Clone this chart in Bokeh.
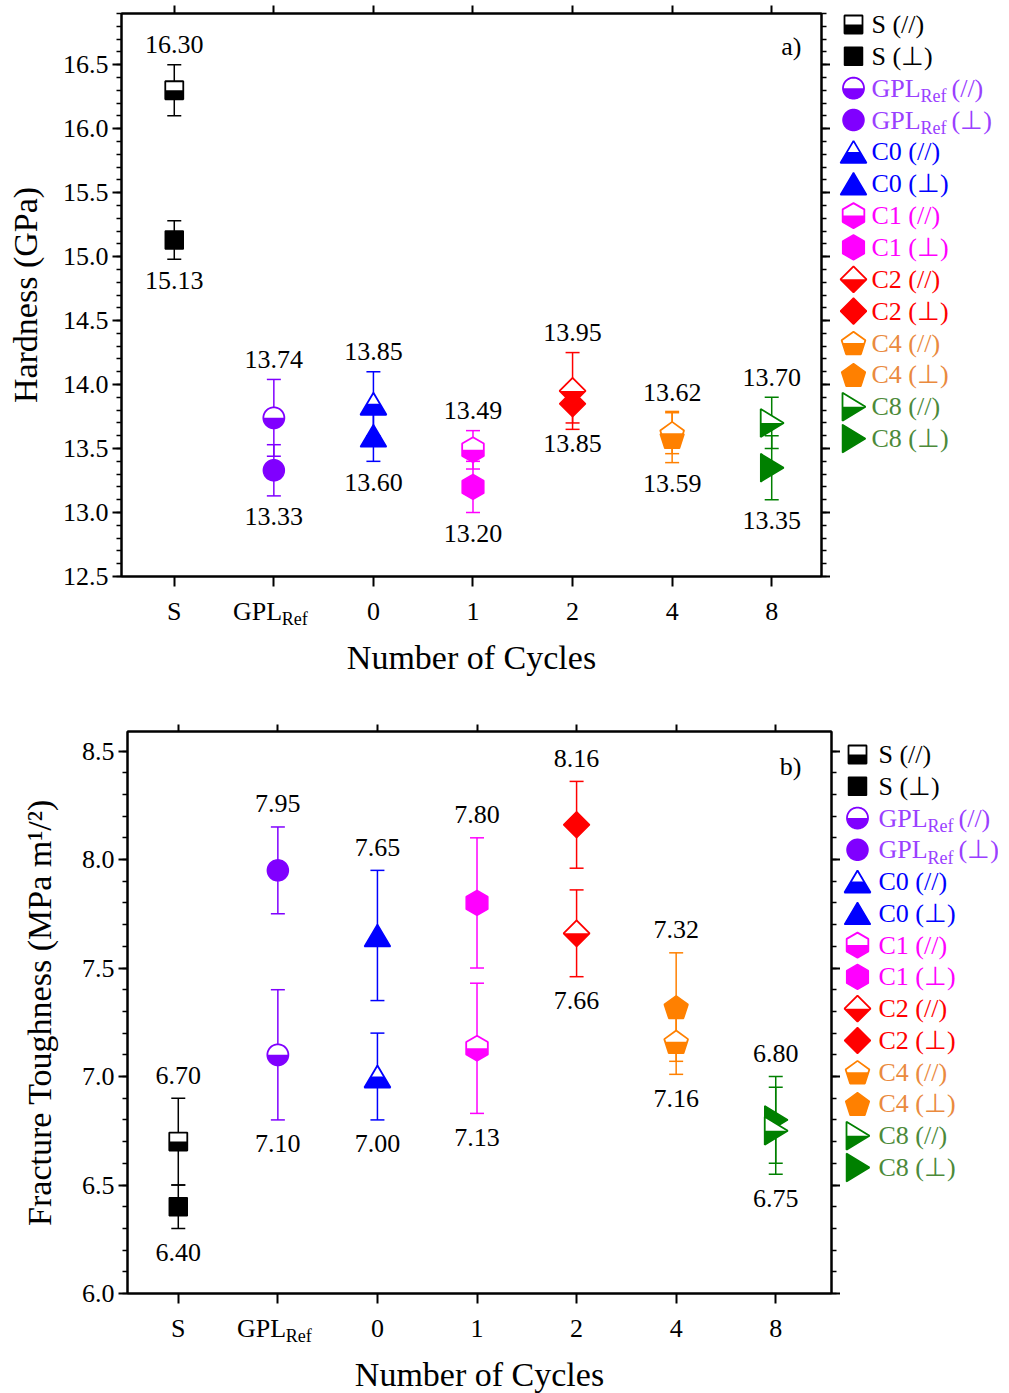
import numpy as np
from bokeh.plotting import figure
from bokeh.layouts import column, row
from bokeh.models import (Range1d, LinearAxis, FixedTicker, SingleIntervalTicker,
                          NumeralTickFormatter, Whisker, TeeHead, ColumnDataSource, Label)
from bokeh.embed import file_html
from bokeh.resources import INLINE
from bokeh.core.properties import value

FONT = "Liberation Serif"

# ---------------- data ----------------
categories = ["S", "GPL_Ref", "0", "1", "2", "4", "8"]
series_names = ["S", "GPL_Ref", "C0", "C1", "C2", "C4", "C8"]

hard_par = [16.30, 13.74, 13.85, 13.49, 13.95, 13.62, 13.70]
hard_par_err = [0.20, 0.30, 0.25, 0.15, 0.30, 0.16, 0.20]
hard_perp = [15.13, 13.33, 13.60, 13.20, 13.85, 13.59, 13.35]
hard_perp_err = [0.15, 0.20, 0.20, 0.20, 0.15, 0.20, 0.25]

tough_par = [6.70, 7.10, 7.00, 7.13, 7.66, 7.16, 6.75]
tough_par_err = [0.20, 0.30, 0.20, 0.30, 0.20, 0.15, 0.20]
tough_perp = [6.40, 7.95, 7.65, 7.80, 8.16, 7.32, 6.80]
tough_perp_err = [0.10, 0.20, 0.30, 0.30, 0.20, 0.25, 0.20]

marker_colors = ["#000000", "#8000ff", "#0000ff", "#ff00ff", "#ff0000", "#ff8000", "#008000"]
legend_text_colors = ["#000000", "#9a40ff", "#0000ff", "#ff00ff", "#ff0000", "#ea8a3e", "#4c8a3a"]
marker_shapes = ["square", "circle", "triangle", "hexagon", "diamond", "pentagon", "tri_right"]

x_pos = list(range(len(categories)))


# ---------------- marker geometry (pixels, y up) ----------------
def shape_px(kind):
    if kind == "square":
        h = 9.0
        return [(-h, -h), (h, -h), (h, h), (-h, h)]
    if kind == "circle":
        r = 10.5
        a = np.linspace(0, 2 * np.pi, 60, endpoint=False)
        return list(zip(r * np.cos(a), r * np.sin(a)))
    if kind == "triangle":
        return [(-13.0, -11.0), (13.0, -11.0), (0.0, 11.0)]
    if kind == "hexagon":
        R = 12.5
        a = np.radians(90 + 60 * np.arange(6))
        return list(zip(R * np.cos(a), R * np.sin(a)))
    if kind == "diamond":
        return [(0.0, 13.0), (13.0, 0.0), (0.0, -13.0), (-13.0, 0.0)]
    if kind == "pentagon":
        R = 12.5
        a = np.radians(90 + 72 * np.arange(5))
        shift = (R - 0.809 * R) / 2.0
        return list(zip(R * np.cos(a), R * np.sin(a) - shift))
    if kind == "tri_right":
        return [(-11.0, 14.0), (-11.0, -14.0), (12.0, 0.0)]
    raise ValueError(kind)


def clip_bottom(poly):
    out = []
    n = len(poly)
    for i in range(n):
        cx, cy = poly[i]
        px, py = poly[i - 1]
        cin, pin = cy <= 0, py <= 0
        if cin:
            if not pin:
                t = py / (py - cy)
                out.append((px + t * (cx - px), 0.0))
            out.append((cx, cy))
        elif pin:
            t = py / (py - cy)
            out.append((px + t * (cx - px), 0.0))
    return out


def polygon(xc, yc, kind, sx, sy, half=False):
    pts = shape_px(kind)
    if half:
        pts = clip_bottom(pts)
    return [xc + dx * sx for dx, dy in pts], [yc + dy * sy for dx, dy in pts]


def draw_markers(p, xc_list, yc_list, kinds, colors, sx, sy, half):
    full = dict(xs=[], ys=[], c=[])
    bot = dict(xs=[], ys=[], c=[])
    for xc, yc, k, c in zip(xc_list, yc_list, kinds, colors):
        xs, ys = polygon(xc, yc, k, sx, sy)
        full["xs"].append(xs); full["ys"].append(ys); full["c"].append(c)
        xs, ys = polygon(xc, yc, k, sx, sy, half=True)
        bot["xs"].append(xs); bot["ys"].append(ys); bot["c"].append(c)
    if not half:
        p.patches("xs", "ys", source=ColumnDataSource(full), fill_color="c",
                  line_color="c", line_width=1.5)
    else:
        p.patches("xs", "ys", source=ColumnDataSource(full), fill_color="white",
                  line_color=None)
        p.patches("xs", "ys", source=ColumnDataSource(bot), fill_color="c",
                  line_color=None)
        p.patches("xs", "ys", source=ColumnDataSource(full), fill_color=None,
                  line_color="c", line_width=1.8)


def style_axis(ax, tick_out, minor_out, labels=True):
    ax.axis_line_color = "black"
    ax.axis_line_width = 2
    ax.major_tick_line_color = "black"
    ax.major_tick_line_width = 2
    ax.minor_tick_line_color = "black"
    ax.minor_tick_line_width = 1.5
    ax.major_tick_in = 0
    ax.major_tick_out = tick_out
    ax.minor_tick_in = 0
    ax.minor_tick_out = minor_out
    if labels:
        ax.major_label_text_font = FONT
        ax.major_label_text_font_size = "26px"
        ax.major_label_text_color = "black"
        ax.axis_label_text_font = FONT
        ax.axis_label_text_font_style = "normal"
        ax.axis_label_text_color = "black"
    else:
        ax.major_label_text_font_size = "1px"
        ax.major_label_text_color = None
        ax.major_label_standoff = 0


def make_panel(par, par_err, perp, perp_err, ylabel, yr, xr, frame_w, frame_h,
               border_left, border_top, border_bottom, off_above, off_below,
               tag, tag_dx, tag_dy, ylabel_standoff, ref_side, top_tick):
    p = figure(frame_width=frame_w, frame_height=frame_h,
               x_range=Range1d(*xr), y_range=Range1d(*yr),
               toolbar_location=None, output_backend="svg",
               min_border_left=border_left, min_border_right=0,
               min_border_top=border_top, min_border_bottom=border_bottom,
               background_fill_color="white", border_fill_color="white")
    p.grid.visible = False
    p.outline_line_color = "black"
    p.outline_line_width = 2

    sx = (xr[1] - xr[0]) / frame_w
    sy = (yr[1] - yr[0]) / frame_h

    # left axis
    ya = p.yaxis[0]
    ya.ticker = SingleIntervalTicker(interval=0.5, num_minor_ticks=5)
    ya.formatter = NumeralTickFormatter(format="0.0")
    style_axis(ya, 9, 5)
    ya.major_label_standoff = 4
    ya.axis_label = ylabel
    ya.axis_label_text_font_size = "34px"
    ya.axis_label_standoff = ylabel_standoff

    # bottom axis
    xa = p.xaxis[0]
    xa.ticker = FixedTicker(ticks=x_pos, minor_ticks=[])
    overrides = {i: c for i, c in zip(x_pos, categories)}
    gi = categories.index("GPL_Ref")
    overrides[gi] = "GPL" + "\u00a0" * 5
    xa.major_label_overrides = overrides
    style_axis(xa, 10, 0)
    xa.major_label_standoff = 10
    xa.axis_label = "Number of Cycles"
    xa.axis_label_text_font_size = "34px"
    xa.axis_label_standoff = 10

    # right & top axes (ticks only)
    ra = LinearAxis(ticker=SingleIntervalTicker(interval=0.5, num_minor_ticks=5))
    style_axis(ra, 9, 5, labels=False)
    p.add_layout(ra, "right")
    ta = LinearAxis(ticker=FixedTicker(ticks=x_pos, minor_ticks=[]))
    style_axis(ta, top_tick, 0, labels=False)
    p.add_layout(ta, "above")

    # subscript of the GPL_Ref tick label (side panel so it is not clipped)
    p.add_layout(Label(x=gi, y=yr[0], x_offset=8, y_offset=-42, text="Ref",
                       text_align="left", text_baseline="middle", text_font=FONT,
                       text_font_size="18px", text_color="black"), ref_side)

    # error bars
    for i in range(len(x_pos)):
        col = marker_colors[i]
        for vals, errs in ((perp, perp_err), (par, par_err)):
            src = ColumnDataSource(dict(x=[x_pos[i]], upper=[vals[i] + errs[i]],
                                        lower=[vals[i] - errs[i]]))
            w = Whisker(source=src, base="x", upper="upper", lower="lower",
                        dimension="height", line_color=col, line_width=1.5,
                        upper_head=TeeHead(size=14, line_color=col, line_width=1.5),
                        lower_head=TeeHead(size=14, line_color=col, line_width=1.5),
                        level="underlay")
            p.add_layout(w)

    # markers
    draw_markers(p, x_pos, perp, marker_shapes, marker_colors, sx, sy, half=False)
    draw_markers(p, x_pos, par, marker_shapes, marker_colors, sx, sy, half=True)

    # value labels
    above = dict(x=[], y=[], t=[])
    below = dict(x=[], y=[], t=[])
    for i in range(len(x_pos)):
        a = (par[i], par_err[i]); b = (perp[i], perp_err[i])
        hi, lo = (a, b) if a[0] >= b[0] else (b, a)
        above["x"].append(x_pos[i]); above["y"].append(hi[0] + hi[1]); above["t"].append(f"{hi[0]:.2f}")
        below["x"].append(x_pos[i]); below["y"].append(lo[0] - lo[1]); below["t"].append(f"{lo[0]:.2f}")
    p.text("x", "y", "t", source=ColumnDataSource(above), text_font=value(FONT),
           text_font_size="26px", text_align="center", text_baseline="middle",
           text_color="black", y_offset=-off_above)
    p.text("x", "y", "t", source=ColumnDataSource(below), text_font=value(FONT),
           text_font_size="26px", text_align="center", text_baseline="middle",
           text_color="black", y_offset=off_below)

    # panel tag
    p.add_layout(Label(x=xr[1], y=yr[1], x_offset=-tag_dx, y_offset=-tag_dy, text=tag,
                       text_align="right", text_baseline="middle", text_font=FONT,
                       text_font_size="26px", text_color="black"))
    return p


def make_legend(width, frame_h, border_top, first_center, spacing, marker_x, text_x):
    lf = figure(frame_width=width, frame_height=frame_h,
                x_range=Range1d(0, width), y_range=Range1d(0, frame_h),
                toolbar_location=None, output_backend="svg",
                x_axis_location=None, y_axis_location=None,
                min_border_left=0, min_border_right=0, min_border_bottom=0,
                min_border_top=border_top, outline_line_color=None,
                background_fill_color="white", border_fill_color="white")
    lf.grid.visible = False
    k = 0
    main = dict(x=[], y=[], t=[], c=[])
    subs = dict(x=[], y=[], t=[], c=[])
    tails = dict(x=[], y=[], t=[], c=[])
    for i, name in enumerate(series_names):
        for kind_label, half in (("(//)", True), ("(\u22a5)", False)):
            yc = frame_h - (first_center + k * spacing)
            draw_markers(lf, [marker_x], [yc], [marker_shapes[i]], [marker_colors[i]], 1.0, 1.0, half)
            if name == "GPL_Ref":
                main["x"].append(text_x); main["y"].append(yc); main["t"].append("GPL")
                main["c"].append(legend_text_colors[i])
                subs["x"].append(text_x + 49); subs["y"].append(yc - 8); subs["t"].append("Ref")
                subs["c"].append(legend_text_colors[i])
                tails["x"].append(text_x + 80); tails["y"].append(yc)
                tails["t"].append(kind_label); tails["c"].append(legend_text_colors[i])
            else:
                main["x"].append(text_x); main["y"].append(yc)
                main["t"].append(name + " " + kind_label); main["c"].append(legend_text_colors[i])
            k += 1
    for d, fs in ((main, "26px"), (subs, "18px"), (tails, "26px")):
        lf.text("x", "y", "t", source=ColumnDataSource(d), text_font=value(FONT),
                text_font_size=fs, text_align="left", text_baseline="middle",
                text_color="c")
    return lf


pa = make_panel(hard_par, hard_par_err, hard_perp, hard_perp_err, "Hardness (GPa)",
                (12.5, 16.9), (-0.53, 6.5), 700, 563, 121, 13, 125, 20, 21, "a)", 20, 33,
                16, "below", 8)
pb = make_panel(tough_par, tough_par_err, tough_perp, tough_perp_err,
                "Fracture Toughness (MPa m\u00b9/\u00b2)",
                (6.0, 8.59), (-0.51, 6.56), 704, 562, 127, 30, 88, 23, 24, "b)", 30, 35,
                21, "above", 7)

la = make_legend(165, 563, 13, 11, 31.85, 23, 41)
lb = make_legend(158, 562, 30, 23, 31.77, 17, 38)

layout = column(row(pa, la), row(pb, lb))

with open("out.html", "w") as f:
    f.write(file_html(layout, INLINE))
